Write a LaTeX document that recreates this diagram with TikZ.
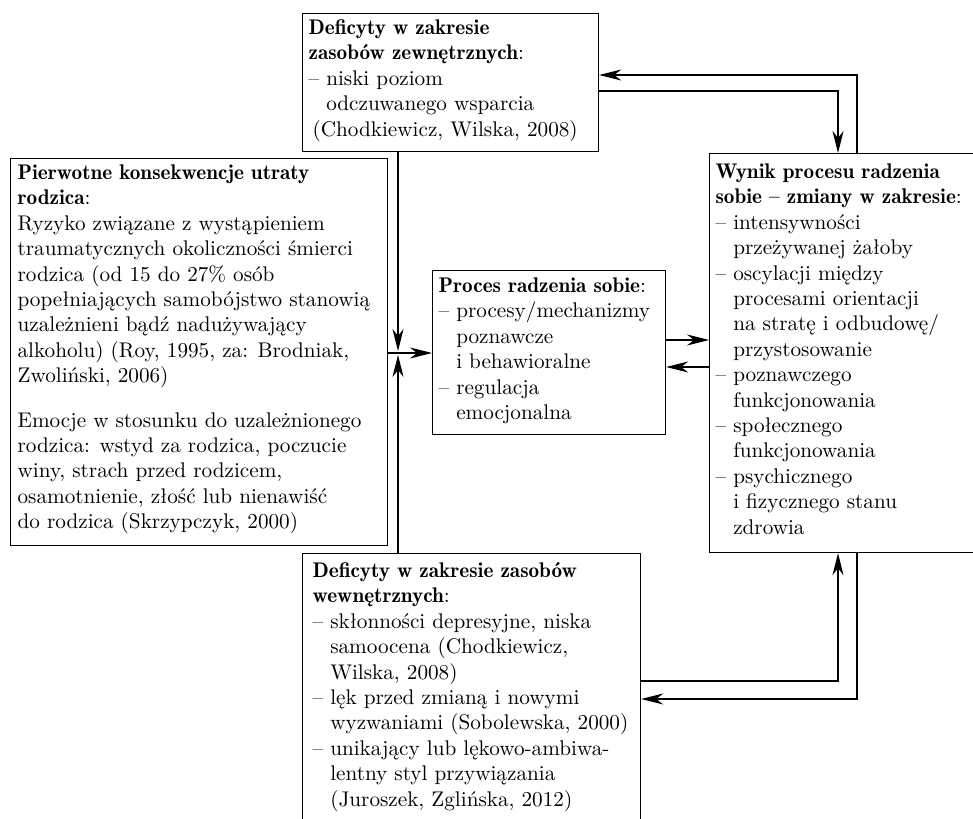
\documentclass[tikz,border=0pt]{standalone}
\usetikzlibrary{arrows.meta}
\newcommand{\myd}{–\ }
\newcommand{\myi}{\hphantom{–\ }}
\newcommand{\hb}[1]{{\fontseries{b}\selectfont #1}}
\newcommand{\tb}[1]{\begin{tabular}[t]{@{}l@{}}#1\end{tabular}}
\tikzset{
  box/.style={draw, line width=0.6pt, anchor=north west, font=\fontsize{10.6}{12.7}\selectfont},
  conn/.style={line width=0.6pt},
  arr/.style={conn, -{Stealth[length=11pt,width=5.5pt,inset=3.5pt]}},
}
\begin{document}
\begin{tikzpicture}[x=0.5pt,y=-0.5pt]
\path[use as bounding box, fill=white] (0,0) rectangle (973,818);

\node[box, inner xsep=3pt, inner ysep=1.6pt] (ext) at (302,13)
 {\parbox[c][65.8pt][t]{142pt}{\tb{\hb{Deficyty w zakresie}\\
 \hb{zasobów zewnętrznych}:\\
 \myd niski poziom\\
 \myi odczuwanego wsparcia\\
 \hspace*{2pt}(Chodkiewicz, Wilska, 2008)}}};

\node[box, inner xsep=3.5pt, inner ysep=1.6pt] (pierw) at (10,158)
 {\parbox[c][190.3pt][t]{181.5pt}{\tb{\hb{Pierwotne konsekwencje utraty}\\
 \hb{rodzica}:\\
 Ryzyko związane z wystąpieniem\\
 traumatycznych okoliczności śmierci\\
 rodzica (od 15 do 27\% osób\\
 popełniających samobójstwo stanowią\\
 uzależnieni bądź nadużywający\\
 alkoholu) (Roy, 1995, za: Brodniak,\\
 Zwoliński, 2006)\\[9.5pt]
 Emocje w stosunku do uzależnionego\\
 rodzica: wstyd za rodzica, poczucie\\
 winy, strach przed rodzicem,\\
 osamotnienie, złość lub nienawiść\\
 do rodzica (Skrzypczyk, 2000)}}};

\node[box, inner xsep=3pt, inner ysep=2.1pt] (proc) at (432,270)
 {\parbox[c][77.8pt][t]{110.5pt}{\tb{\hb{Proces radzenia sobie}:\\
 \myd procesy/mechanizmy\\
 \myi poznawcze\\
 \myi i behawioralne\\
 \myd regulacja\\
 \myi emocjonalna}}};

\node[box, inner xsep=3pt, inner ysep=3.6pt] (wyn) at (709,153)
 {\parbox[c][192.3pt][t]{132pt}{\tb{\hb{Wynik procesu radzenia}\\
 \hb{sobie – zmiany w zakresie}:\\
 \myd intensywności\\
 \myi przeżywanej żałoby\\
 \myd oscylacji między\\
 \myi procesami orientacji\\
 \myi na stratę i odbudowę/\\
 \myi przystosowanie\\
 \myd poznawczego\\
 \myi funkcjonowania\\
 \myd społecznego\\
 \myi funkcjonowania\\
 \myd psychicznego\\
 \myi i fizycznego stanu\\
 \myi zdrowia}}};

\node[box, inner xsep=5pt, inner ysep=3.1pt] (wewn) at (302,553)
 {\parbox[c][128.3pt][t]{159pt}{\tb{\hb{Deficyty w zakresie zasobów}\\
 \hb{wewnętrznych}:\\
 \myd skłonności depresyjne, niska\\
 \myi samoocena (Chodkiewicz,\\
 \myi Wilska, 2008)\\
 \myd lęk przed zmianą i nowymi\\
 \myi wyzwaniami (Sobolewska, 2000)\\
 \myd unikający lub lękowo-ambiwa-\\
 \myi lentny styl przywiązania\\
 \myi (Juroszek, Zglińska, 2012)}}};

\coordinate (jn) at (398,353);

\draw[arr] (ext.east |- 0,91) -| (wyn.north -| 838,0);
\draw[arr] (wyn.north -| 857,0) |- (ext.east |- 0,75);
\draw[arr] (ext.south -| jn) -- ([yshift=1pt]jn);
\draw[arr] (wewn.north -| jn) -- ([yshift=-1pt]jn);
\draw[arr] (pierw.east |- jn) -- (proc.west |- jn);
\draw[arr] (proc.east |- 0,340) -- (wyn.west |- 0,340);
\draw[arr] (wyn.west |- 0,367) -- (proc.east |- 0,367);
\draw[arr] (wewn.east |- 0,681) -| (wyn.south -| 838,0);
\draw[arr] (wyn.south -| 857,0) |- (wewn.east |- 0,699);
\end{tikzpicture}
\end{document}
